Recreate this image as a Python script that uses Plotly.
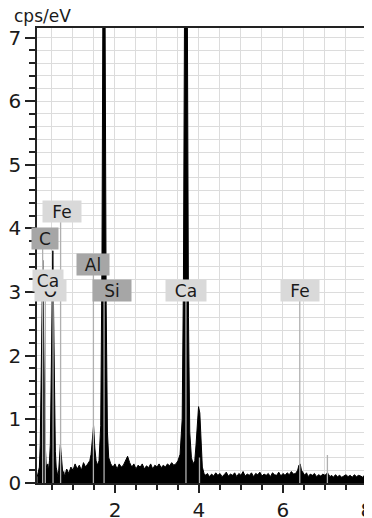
import plotly.graph_objects as go

# ---- spectrum (keV, cps/eV) ----
energy = [0.15, 0.18, 0.20, 0.22, 0.24, 0.26, 0.28, 0.30, 0.32, 0.34, 0.36, 0.38, 0.40, 0.42, 0.44,
          0.46, 0.48, 0.50, 0.52, 0.54, 0.56, 0.58, 0.60, 0.62, 0.64, 0.66, 0.68, 0.70, 0.72, 0.74,
          0.76, 0.78, 0.80, 0.85, 0.90, 0.95, 1.00, 1.05, 1.10, 1.15, 1.20, 1.25, 1.30, 1.35, 1.40,
          1.43, 1.46, 1.49, 1.52, 1.55, 1.58, 1.62, 1.66, 1.69, 1.72, 1.74, 1.76, 1.79, 1.82, 1.85,
          1.90, 1.95, 2.00, 2.05, 2.10, 2.15, 2.20, 2.25, 2.30, 2.35, 2.40, 2.45, 2.50, 2.55, 2.60,
          2.65, 2.70, 2.75, 2.80, 2.85, 2.90, 2.95, 3.00, 3.05, 3.10, 3.15, 3.20, 3.25, 3.30, 3.35,
          3.40, 3.45, 3.50, 3.55, 3.60, 3.63, 3.66, 3.69, 3.72, 3.75, 3.78, 3.82, 3.86, 3.90, 3.93,
          3.96, 3.99, 4.02, 4.05, 4.08, 4.12, 4.16, 4.20, 4.25, 4.30, 4.35, 4.40, 4.45, 4.50, 4.55,
          4.60, 4.65, 4.70, 4.75, 4.80, 4.85, 4.90, 4.95, 5.00, 5.05, 5.10, 5.15, 5.20, 5.25, 5.30,
          5.35, 5.40, 5.45, 5.50, 5.55, 5.60, 5.65, 5.70, 5.75, 5.80, 5.85, 5.90, 5.95, 6.00, 6.05,
          6.10, 6.15, 6.20, 6.25, 6.30, 6.35, 6.38, 6.41, 6.44, 6.48, 6.52, 6.56, 6.60, 6.65, 6.70,
          6.75, 6.80, 6.85, 6.90, 6.95, 7.00, 7.03, 7.06, 7.09, 7.12, 7.16, 7.20, 7.25, 7.30, 7.35,
          7.40, 7.45, 7.50, 7.55, 7.60, 7.65, 7.70, 7.75, 7.80, 7.85, 7.90, 7.95, 8.00, 8.05, 8.10,
          8.15]
cps = [0.10, 0.18, 0.25, 0.6, 1.6, 3.0, 3.5, 2.4, 1.2, 0.6, 0.3, 0.22, 0.30, 0.20, 0.35,
       0.6, 1.6, 3.0, 3.65, 2.6, 1.2, 0.5, 0.25, 0.15, 0.10, 0.20, 0.40, 0.60, 0.45, 0.25,
       0.12, 0.18, 0.10, 0.22, 0.15, 0.25, 0.20, 0.30, 0.22, 0.28, 0.20, 0.32, 0.25, 0.30, 0.35,
       0.45, 0.75, 0.90, 0.55, 0.35, 0.28, 0.35, 0.9, 3.5, 9.0, 14.0, 8.0, 2.8, 0.8, 0.40,
       0.30, 0.25, 0.30, 0.22, 0.30, 0.25, 0.28, 0.35, 0.42, 0.32, 0.25, 0.30, 0.22, 0.28, 0.25,
       0.30, 0.22, 0.27, 0.24, 0.30, 0.22, 0.28, 0.25, 0.30, 0.24, 0.28, 0.25, 0.30, 0.27, 0.32,
       0.28, 0.30, 0.35, 0.45, 1.0, 3.2, 8.5, 13.0, 8.0, 2.6, 0.8, 0.40, 0.30, 0.35, 0.60,
       0.95, 1.20, 1.10, 0.60, 0.25, 0.15, 0.12, 0.15, 0.10, 0.14, 0.11, 0.16, 0.12, 0.15, 0.10,
       0.13, 0.17, 0.11, 0.14, 0.12, 0.16, 0.10, 0.15, 0.12, 0.18, 0.11, 0.14, 0.12, 0.16, 0.10,
       0.15, 0.13, 0.17, 0.11, 0.14, 0.12, 0.15, 0.10, 0.16, 0.13, 0.12, 0.17, 0.11, 0.15, 0.12,
       0.16, 0.13, 0.18, 0.14, 0.15, 0.20, 0.28, 0.30, 0.20, 0.15, 0.12, 0.16, 0.10, 0.14, 0.12,
       0.15, 0.10, 0.13, 0.11, 0.14, 0.12, 0.14, 0.16, 0.13, 0.10, 0.12, 0.09, 0.13, 0.10, 0.12,
       0.09, 0.11, 0.13, 0.10, 0.12, 0.09, 0.13, 0.10, 0.12, 0.11, 0.09, 0.13, 0.10, 0.12, 0.11,
       0.10]

# ---- element line markers (keV) and the height each marker line reaches ----
marker_energy = [0.277, 0.341, 0.525, 0.705, 1.486, 1.740, 3.690, 4.012, 6.400, 7.058]
marker_top = [3.75, 3.10, 3.00, 4.15, 3.30, 2.95, 2.95, 0.40, 2.95, 0.44]

# ---- labels ----
label_text = ["Fe", "O", "Ca", "C", "Al", "Si", "Ca", "Fe"]
label_x = [0.74, 0.47, 0.40, 0.33, 1.48, 1.93, 3.69, 6.40]
label_y = [4.26, 3.03, 3.19, 3.85, 3.44, 3.03, 3.03, 3.03]
label_dark = [False, False, False, True, True, True, False, False]
label_w = [38, 31, 30, 26, 32, 38, 40, 38]

# ---- axis ticks ----
x_ticks = [2, 4, 6, 8]
y_ticks = [0, 1, 2, 3, 4, 5, 6, 7]

fig = go.Figure()

fig.add_trace(go.Scatter(
    x=energy, y=cps, mode="lines", fill="tozeroy",
    line=dict(color="black", width=1), fillcolor="black",
    hoverinfo="skip", showlegend=False))

for e, t in zip(marker_energy, marker_top):
    fig.add_trace(go.Scatter(
        x=[e, e], y=[0, t], mode="lines",
        line=dict(color="#b0b0b0", width=1.3),
        hoverinfo="skip", showlegend=False))

for txt, lx, ly, dark, w in zip(label_text, label_x, label_y, label_dark, label_w):
    fig.add_annotation(
        x=lx, y=ly, xref="x", yref="y", text=txt, showarrow=False,
        font=dict(family="DejaVu Sans", size=17, color="#1a1a1a"),
        bgcolor="#a6a6a6" if dark else "#d9d9d9",
        width=w, height=21, borderpad=0, align="center")

fig.add_annotation(
    xref="paper", yref="paper", x=-0.075, y=1, xanchor="left", yanchor="bottom",
    yshift=0, text="cps/eV", showarrow=False,
    font=dict(family="DejaVu Sans", size=17, color="#1a1a1a"))

grid = "#dcdcdc"
# page body keeps an 8px margin, so the figure is sized to end at the window edge
fig.update_layout(
    width=364, height=510,
    margin=dict(l=29, r=0, t=20, b=35, autoexpand=False),
    paper_bgcolor="white", plot_bgcolor="white",
    xaxis=dict(
        range=[0.143, 8.12], tickvals=x_ticks, ticks="outside", ticklen=8,
        tickwidth=1.5, tickcolor="#222", showline=True, linecolor="#222",
        linewidth=1.5, mirror=True, showgrid=True, gridcolor=grid, gridwidth=1,
        zeroline=False, ticklabeloverflow="allow", automargin=False,
        tickfont=dict(family="DejaVu Sans", size=20, color="#1a1a1a"),
        minor=dict(dtick=0.5, tick0=0, ticks="outside", ticklen=5, tickcolor="#222",
                   showgrid=True, gridcolor=grid, gridwidth=1)),
    yaxis=dict(
        range=[0, 7.15], tickvals=y_ticks, ticks="outside", ticklen=10,
        tickwidth=1.5, tickcolor="#222", showline=True, linecolor="#222",
        linewidth=1.5, showgrid=True, gridcolor=grid, gridwidth=1,
        zeroline=False, automargin=False,
        tickfont=dict(family="DejaVu Sans", size=20, color="#1a1a1a"),
        minor=dict(dtick=0.2, tick0=0, ticks="outside", ticklen=6, tickcolor="#222",
                   showgrid=True, gridcolor=grid, gridwidth=1)),
)

fig.write_html("out.html")
